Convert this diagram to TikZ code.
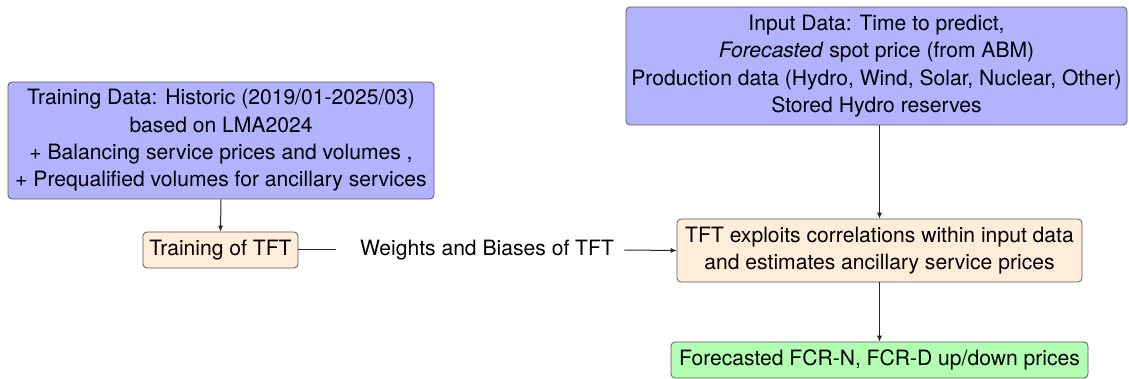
\documentclass[tikz,border=0pt]{standalone}
\usepackage{fontspec}
\setmainfont{TeX Gyre Heros}
\usetikzlibrary{arrows.meta}
\begin{document}
\begin{tikzpicture}[x=0.5pt,y=-0.5pt,
  box/.style={draw=black!65, rounded corners=2pt, align=center, inner sep=0pt, font=\fontsize{10.55}{13.7}\selectfont},
  databox/.style={box, fill=blue!30},
  procbox/.style={box, fill=orange!15},
  outbox/.style={box, fill=green!30},
  conn/.style={draw=black!85, line width=0.5pt},
  arr/.style={conn, -{Latex[length=3pt,width=2.6pt]}},
  lbl/.style={inner sep=0pt, font=\fontsize{10.55}{13.7}\selectfont}]
\useasboundingbox (0,0) rectangle (1129,379);
\node[databox, minimum width=213pt, minimum height=58.5pt] (train) at (221,140.5)
  {Training Data: Historic (2019/01-2025/03)\\based on LMA2024\\+ Balancing service prices and volumes ,\\+ Prequalified volumes for ancillary services};
\node[procbox, minimum width=77.5pt, minimum height=18pt] (tfttrain) at (220.5,250) {Training of TFT};
\node[databox, minimum width=250.5pt, minimum height=59pt] (input) at (876.5,66)
  {Input Data: Time to predict,\\\textit{Forecasted} spot price (from ABM)\\Production data (Hydro, Wind, Solar, Nuclear, Other)\\Stored Hydro reserves};
\node[procbox, minimum width=202.5pt, minimum height=31.5pt] (tft) at (879.5,250.5)
  {TFT exploits correlations within input data\\and estimates ancillary service prices};
\node[outbox, minimum width=208.5pt, minimum height=18pt] (out) at (879.5,360) {Forecasted FCR-N, FCR-D up/down prices};
\node[lbl] (wb) at (487,250) {Weights and Biases of TFT};
\draw[arr] (train.south) -- (tfttrain.north);
\draw[conn] (tfttrain.east) -- ([xshift=-12pt]wb.west);
\draw[arr] ([xshift=5pt]wb.east) -- (tft.west);
\draw[arr] (input.south -| tft.north) -- (tft.north);
\draw[arr] (tft.south) -- (out.north);
\end{tikzpicture}
\end{document}
